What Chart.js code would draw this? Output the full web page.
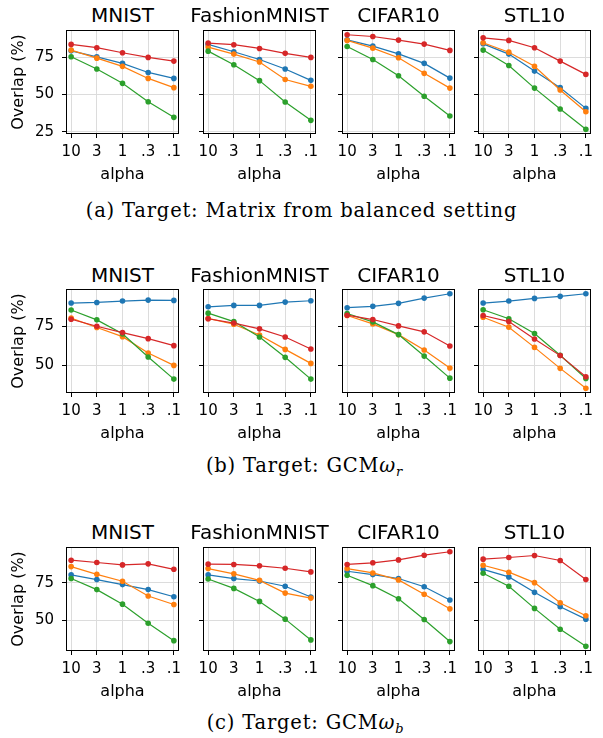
<!DOCTYPE html>
<html>
<head>
<meta charset="utf-8">
<script src="https://cdn.jsdelivr.net/npm/chart.js@4/dist/chart.umd.min.js"></script>
<style>
    body { margin: 0; background: #fff; }
    #fig { position: relative; width: 603px; height: 738px; overflow: hidden; font-family: "DejaVu Sans", sans-serif; color: #000; }
    .panel { position: absolute; }
    .title { position: absolute; width: 200px; text-align: center; font-size: 20px; line-height: 20px; white-space: nowrap; }
    .caption { position: absolute; width: 603px; text-align: center; font-family: "DejaVu Serif", serif; font-size: 19.5px; letter-spacing: 0.8px; line-height: 24px; white-space: nowrap; }
</style>
</head>
<body>
<div id="fig"></div>
<script>
const alphaLabels = ['10', '3', '1', '.3', '.1'];
const datasetNames = ['MNIST', 'FashionMNIST', 'CIFAR10', 'STL10'];
const seriesColors = ['#1f77b4', '#ff7f0e', '#2ca02c', '#d62728'];
const yTicks = [25, 50, 75];

// 各パネル: [blue, orange, green, red]
// (a) balanced setting
const balancedMNIST   = [[79.2, 75.2, 70.8, 64.7, 60.7], [79.7, 74.3, 68.8, 60.7, 54.5], [75.2, 67.0, 57.4, 45.1, 34.6], [83.5, 81.3, 77.9, 74.8, 72.3]];
const balancedFashion = [[83.5, 78.6, 73.4, 67.0, 59.4], [81.7, 77.0, 71.7, 60.0, 55.4], [79.0, 69.9, 59.2, 44.9, 32.6], [84.4, 83.3, 80.8, 77.5, 74.8]];
const balancedCIFAR   = [[86.6, 82.4, 77.2, 70.8, 60.9], [86.2, 81.0, 74.6, 64.1, 54.2], [82.1, 73.4, 62.5, 48.7, 35.5], [90.0, 88.8, 86.4, 83.7, 79.5]];
const balancedSTL     = [[83.9, 77.0, 65.6, 54.5, 40.6], [84.6, 78.3, 68.8, 52.9, 38.4], [79.7, 69.4, 54.2, 40.2, 26.6], [87.9, 86.2, 81.3, 72.3, 63.4]];

// (b) GCM omega_r
const gcmrMNIST   = [[90.1, 90.5, 91.4, 92.0, 91.8], [80.4, 74.4, 68.5, 58.0, 50.0], [85.6, 79.3, 70.3, 55.4, 41.2], [79.7, 75.2, 71.1, 67.2, 62.7]];
const gcmrFashion = [[87.7, 88.6, 88.6, 90.7, 91.6], [80.2, 76.5, 69.6, 60.3, 51.3], [83.6, 78.2, 68.3, 55.2, 41.2], [80.0, 77.2, 73.5, 68.3, 60.6]];
const gcmrCIFAR   = [[87.1, 88.0, 89.9, 93.3, 96.1], [82.1, 76.7, 69.8, 59.9, 48.3], [83.4, 78.0, 69.8, 56.0, 41.8], [82.3, 79.5, 75.4, 71.6, 62.5]];
const gcmrSTL     = [[90.1, 91.4, 93.1, 94.4, 96.1], [81.0, 74.6, 61.6, 48.1, 35.3], [85.8, 80.0, 70.5, 56.5, 41.6], [82.1, 78.2, 67.0, 56.3, 42.7]];

// (c) GCM omega_b
const gcmbMNIST   = [[80.1, 77.0, 73.7, 70.4, 65.7], [85.6, 80.5, 75.9, 66.2, 60.6], [77.7, 70.4, 60.8, 48.2, 36.7], [89.8, 88.3, 86.7, 87.4, 83.8]];
const gcmbFashion = [[80.1, 77.7, 76.1, 72.6, 65.5], [84.3, 80.8, 76.5, 68.1, 64.8], [77.4, 71.2, 62.6, 50.9, 37.2], [87.2, 87.0, 86.1, 84.5, 82.1]];
const gcmbCIFAR   = [[82.5, 80.3, 77.7, 72.3, 63.5], [84.3, 81.4, 76.8, 67.3, 57.7], [79.9, 73.0, 64.4, 50.7, 36.1], [87.0, 88.1, 90.0, 93.1, 95.4]];
const gcmbSTL     = [[83.8, 78.8, 68.6, 59.1, 50.9], [86.5, 81.9, 75.0, 61.7, 53.1], [81.2, 72.6, 58.0, 44.2, 33.0], [90.5, 91.6, 92.9, 89.6, 77.0]];

const rows = [
    { panels: [balancedMNIST, balancedFashion, balancedCIFAR, balancedSTL], boxTop: 30, titleTop: 5,
      caption: '(a) Target: Matrix from balanced setting', captionTop: 198.5, captionShift: 0 },
    { panels: [gcmrMNIST, gcmrFashion, gcmrCIFAR, gcmrSTL], boxTop: 289, titleTop: 264.5,
      caption: '(b) Target: GCM<i>ω</i><sub style="font-size:13px;vertical-align:-4px"><i>r</i></sub>', captionTop: 453.5, captionShift: 3 },
    { panels: [gcmbMNIST, gcmbFashion, gcmbCIFAR, gcmbSTL], boxTop: 547, titleTop: 522,
      caption: '(c) Target: GCM<i>ω</i><sub style="font-size:13px;vertical-align:-4px"><i>b</i></sub>', captionTop: 711, captionShift: 4 }
];

const colLefts = [66, 203, 342, 478];
const boxW = 113, boxH = 104, padL = 66, padR = 8, padT = 10, padB = 50;

// 四辺の枠線 (matplotlib の spine)
const framePlugin = {
    id: 'frame',
    afterDraw(chart) {
        const { ctx, chartArea: a } = chart;
        ctx.save();
        ctx.strokeStyle = '#000';
        ctx.lineWidth = 1;
        const l = Math.round(a.left) + 0.5, t = Math.round(a.top) + 0.5;
        const r = Math.round(a.right) - 0.5, b = Math.round(a.bottom) - 0.5;
        ctx.strokeRect(l, t, r - l, b - t);
        ctx.restore();
    }
};

function dataRange(panels) {
    const all = panels.flat(2);
    const lo = Math.min(...all), hi = Math.max(...all);
    const m = (hi - lo) * 0.05;
    return [lo - m, hi + m];
}

const fig = document.getElementById('fig');

rows.forEach(row => {
    const [yMin, yMax] = dataRange(row.panels);

    row.panels.forEach((series, col) => {
        const title = document.createElement('div');
        title.className = 'title';
        title.textContent = datasetNames[col];
        title.style.left = (colLefts[col] + boxW / 2 - 100) + 'px';
        title.style.top = row.titleTop + 'px';
        fig.appendChild(title);

        const canvas = document.createElement('canvas');
        canvas.className = 'panel';
        canvas.width = padL + boxW + padR;
        canvas.height = padT + boxH + padB;
        canvas.style.left = (colLefts[col] - padL) + 'px';
        canvas.style.top = (row.boxTop - padT) + 'px';
        fig.appendChild(canvas);

        new Chart(canvas, {
            type: 'line',
            data: {
                datasets: series.map((vals, i) => ({
                    data: vals.map((v, j) => ({ x: j, y: v })),
                    borderColor: seriesColors[i],
                    backgroundColor: seriesColors[i],
                    borderWidth: 1.2,
                    pointRadius: 2.8,
                    pointBorderWidth: 0,
                    tension: 0,
                    order: 3 - i
                }))
            },
            options: {
                responsive: false,
                animation: false,
                events: [],
                layout: { padding: { left: 0, right: padR, top: padT, bottom: 0 } },
                plugins: { legend: { display: false }, tooltip: { enabled: false } },
                scales: {
                    x: {
                        type: 'linear', min: -0.2, max: 4.2,
                        afterBuildTicks: s => { s.ticks = alphaLabels.map((_, i) => ({ value: i })); },
                        afterFit: s => { s.height = padB; s.paddingLeft = 0; s.paddingRight = 0; },
                        ticks: { callback: v => alphaLabels[v], color: '#000', font: { family: 'DejaVu Sans', size: 15 }, padding: 5, maxRotation: 0, autoSkip: false },
                        grid: { color: '#dcdcdc', tickColor: '#000', tickLength: 4, lineWidth: 1 },
                        border: { display: false },
                        title: { display: true, text: 'alpha', color: '#000', font: { family: 'DejaVu Sans', size: 16 }, padding: { top: 0, bottom: 0 } }
                    },
                    y: {
                        min: yMin, max: yMax,
                        afterBuildTicks: s => { s.ticks = yTicks.filter(v => v >= yMin && v <= yMax).map(v => ({ value: v })); },
                        afterFit: s => { s.width = padL; s.paddingTop = 0; s.paddingBottom = 0; },
                        ticks: { callback: v => col === 0 ? String(v) : '', color: '#000', font: { family: 'DejaVu Sans', size: 15 }, padding: 8 },
                        grid: { color: '#dcdcdc', tickColor: '#000', tickLength: 4, lineWidth: 1 },
                        border: { display: false },
                        title: { display: col === 0, text: 'Overlap (%)', color: '#000', font: { family: 'DejaVu Sans', size: 16 }, padding: { top: 9.4, bottom: 0 } }
                    }
                }
            },
            plugins: [framePlugin]
        });
    });

    const cap = document.createElement('div');
    cap.className = 'caption';
    cap.innerHTML = row.caption;
    cap.style.left = row.captionShift + 'px';
    cap.style.top = row.captionTop + 'px';
    fig.appendChild(cap);
});
</script>
</body>
</html>
